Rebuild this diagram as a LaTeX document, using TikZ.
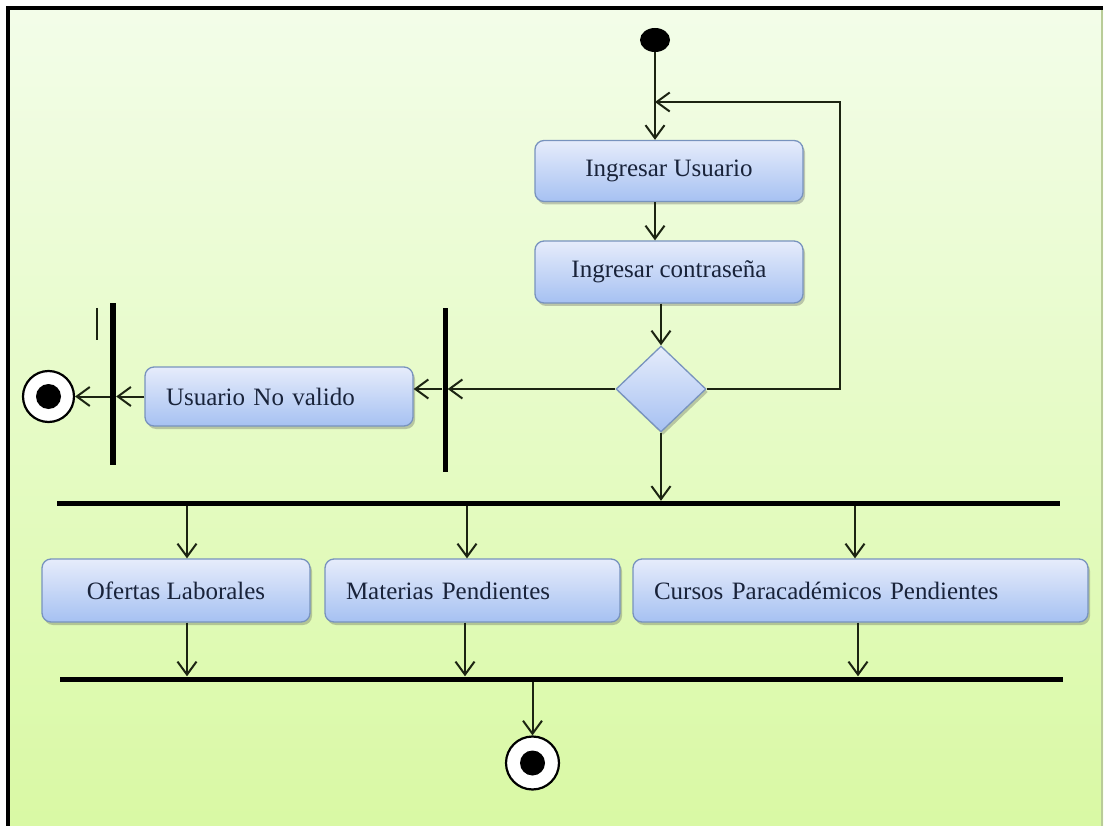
\documentclass[tikz,border=0pt]{standalone}
\usepackage{fontspec}
\setmainfont{Liberation Serif}
\usetikzlibrary{arrows.meta,shapes.geometric,shadows}

\definecolor{ink}{HTML}{19233A}
\definecolor{flowline}{HTML}{1C2412}
\definecolor{bgtop}{HTML}{F3FDE9}
\definecolor{bgbot}{HTML}{D9F9A4}
\definecolor{edgeright}{HTML}{B9CC98}
\definecolor{boxtop}{HTML}{E6ECFB}
\definecolor{boxbot}{HTML}{A6C1F2}
\definecolor{boxedge}{HTML}{7893BE}

\begin{document}
\begin{tikzpicture}[x=1pt,y=-1pt,
  flow/.style={draw=flowline, line width=2pt,
    -{Straight Barb[length=13pt,width=19pt,line width=2pt]}},
  action/.style={draw=boxedge, line width=1.3pt, rounded corners=9pt,
    top color=boxtop, bottom color=boxbot,
    drop shadow={shadow xshift=2pt, shadow yshift=-3pt, opacity=0.3, fill=black!70},
    font=\fontsize{25}{30}\selectfont, text=ink, inner sep=0pt},
  leftact/.style={action, align=left, inner xsep=21pt},
  decision/.style={diamond, draw=boxedge, line width=1.3pt,
    top color=boxtop, bottom color=boxbot, inner sep=0pt,
    drop shadow={shadow xshift=2pt, shadow yshift=-3pt, opacity=0.3, fill=black!70}},
  syncbar/.style={fill=black, draw=none, inner sep=0pt, minimum size=0pt},
  startdot/.style={ellipse, fill=black, draw=none, inner sep=0pt,
    minimum width=30pt, minimum height=24pt},
  endring/.style={circle, draw=black, line width=2.2pt, fill=white, inner sep=0pt,
    minimum size=51pt,
    path picture={\fill[black] (path picture bounding box.center) circle (12.5pt);}}
]
\useasboundingbox (0,0) rectangle (1106,826);

% page background and frame
\fill[white] (0,0) rectangle (1106,826);
\shade[top color=bgtop, bottom color=bgbot] (8,8) rectangle (1103,826);
\draw[edgeright, line width=1.5pt] (1102,9) -- (1102,826);
\draw[black, line width=4pt, line join=miter] (8,826) -- (8,8.5) -- (1103,8.5);

% login part
\node[startdot] (start) at (655,40) {};
\node[action, align=center, minimum width=268pt, minimum height=61pt] (iu) at (669,171) {Ingresar Usuario};
\node[action, align=center, minimum width=268pt, minimum height=62pt] (ic) at (669,272) {Ingresar contraseña};
\node[decision, minimum width=90pt, minimum height=86pt] (dec) at (661,389) {};
\coordinate (loopturn) at (840,102);

% rejected branch
\node[syncbar, minimum width=5pt, minimum height=164pt] (rbar) at (445,390) {};
\node[leftact, text width=226pt, minimum height=59pt] (nv) at (279,396.5) {Usuario No valido};
\node[syncbar, minimum width=6pt, minimum height=162pt] (lbar) at (113,384) {};
\node[endring] (endl) at (48.5,396.5) {};
\draw[flowline, line width=2pt] (97,308) -- (97,340);

% accepted branch
\node[syncbar, minimum width=1003pt, minimum height=5pt] (fork) at (558.5,503.5) {};
\node[action, align=center, minimum width=268pt, minimum height=63pt] (ol) at (176,590.5) {Ofertas Laborales};
\node[leftact, text width=253pt, minimum height=63pt] (mp) at (472.5,590.5) {Materias Pendientes};
\node[leftact, text width=413pt, minimum height=63pt] (cp) at (860.5,590.5) {Cursos Paracadémicos Pendientes};
\node[syncbar, minimum width=1003pt, minimum height=5pt] (join) at (561.5,679) {};
\node[endring, minimum size=53pt] (endb) at (532.5,763) {};

\coordinate (olin) at (187,0);
\coordinate (mpin) at (467,0);
\coordinate (cpin) at (855,0);
\coordinate (olout) at (187,0);
\coordinate (mpout) at (465,0);
\coordinate (cpout) at (858,0);

% connectors
\draw[flow] (start) -- (start |- iu.north);
\draw[flow] (iu.south -| start) -- (ic.north -| start);
\draw[flow] (ic.south -| dec.north) -- (dec.north);
\draw[flow] (dec.east) -| (loopturn) -- (loopturn -| start);
\draw[flow] (dec.west) -- (dec.west -| rbar.east);
\draw[flow] (rbar.west |- dec.west) -- (nv.east |- dec.west);
\draw[flow] (nv.west) -- (nv.west -| lbar.east);
\draw[flow] (lbar.west |- nv.west) -- (endl.east);
\draw[flow] (dec.south) -- (dec.south |- fork.north);
\draw[flow] (olin |- fork.south) -- (olin |- ol.north);
\draw[flow] (mpin |- fork.south) -- (mpin |- mp.north);
\draw[flow] (cpin |- fork.south) -- (cpin |- cp.north);
\draw[flow] (olout |- ol.south) -- (olout |- join.north);
\draw[flow] (mpout |- mp.south) -- (mpout |- join.north);
\draw[flow] (cpout |- cp.south) -- (cpout |- join.north);
\draw[flow] (endb |- join.south) -- (endb.north);
\end{tikzpicture}
\end{document}
